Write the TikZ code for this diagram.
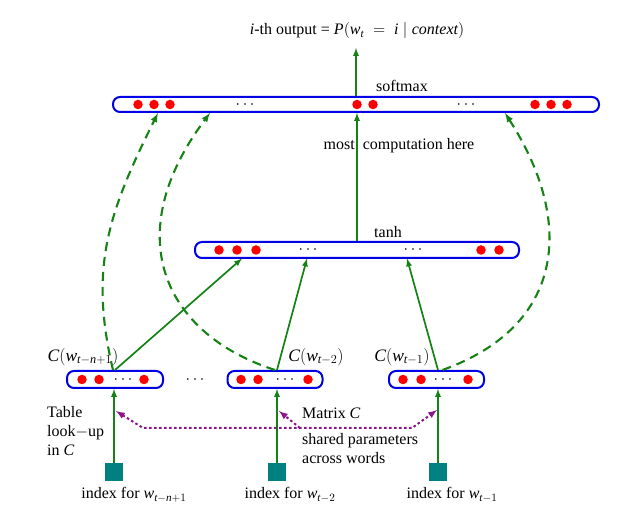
\RequirePackage{fix-cm}
\documentclass[tikz,border=0pt]{standalone}
\usepackage{amstext}
\usepackage{fontspec}
\setmainfont{Liberation Serif}
\definecolor{netgreen}{RGB}{20,130,20}
\definecolor{netblue}{RGB}{0,0,230}
\definecolor{netred}{RGB}{255,0,0}
\definecolor{netteal}{RGB}{0,128,128}
\definecolor{netpurple}{RGB}{140,20,140}
\newcommand{\mv}[1]{\textit{#1}}
\tikzstyle{layer}=[draw=netblue, line width=2pt, rounded corners=7pt, inner sep=0pt]
\tikzstyle{unit}=[circle, fill=netred, inner sep=0pt, minimum size=9.5pt]
\tikzstyle{index box}=[fill=netteal, inner sep=0pt, minimum size=18pt]
\tikzstyle{feed}=[->, netgreen, line width=1.7pt]
\tikzstyle{feed dashed}=[feed, line width=2.1pt, dash pattern=on 9pt off 6pt]
\tikzstyle{shared}=[netpurple, line width=2pt, dash pattern=on 2.5pt off 2.5pt]
\tikzstyle{txt}=[inner sep=0pt]

\begin{document}
\begin{tikzpicture}[>=latex, x=1pt, y=-1pt, font=\fontsize{16}{19}\selectfont]
    \useasboundingbox (0,0) rectangle (633,521);

    % Softmax layer
    \node[layer, minimum width=486pt, minimum height=15pt] (soft) at (356,104.5) {};
    \foreach \x [count=\i] in {138,154,170,357,373,535,551,567}
        \node[unit] (s\i) at (\x,104.5) {};
    \node (sdots1) at (245,104.5) {$\cdots$};
    \node (sdots2) at (466,104.5) {$\cdots$};
    \node[txt] (softlabel) at (402,86) {softmax};

    % Output
    \node[txt] (title) at (357,31) {\mv{i}-th output = $\mv{P}(\mv{w}_{\mv{t}}\;=\;\mv{i}\mid \mv{context})$};
    \coordinate (out) at (356,48);
    \draw[feed] (soft.north) -- (out);

    % Hidden layer
    \node[layer, minimum width=324pt, minimum height=16pt] (hid) at (357,250) {};
    \foreach \x [count=\i] in {219,237,256,481,499}
        \node[unit] (h\i) at (\x,250) {};
    \node (hdots1) at (308,250) {$\cdots$};
    \node (hdots2) at (413,250) {$\cdots$};
    \node[txt] (hidlabel) at (388,232) {tanh};
    \draw[feed] (hid.north) -- (hid.north |- soft.south);
    \node[txt] (comp) at (399,146) {most\ \ computation here};

    % Word feature boxes
    \node[layer, minimum width=96pt, minimum height=17pt] (c1) at (115,379.5) {};
    \node[layer, minimum width=95pt, minimum height=17pt] (c2) at (275,379.5) {};
    \node[layer, minimum width=95pt, minimum height=17pt] (c3) at (436.5,379.5) {};
    \foreach \x [count=\i] in {82,99,144,241,258,308,403,421,468}
        \node[unit] (u\i) at (\x,379.5) {};
    \node (cdots1) at (123,379.5) {$\cdots$};
    \node (cdots2) at (285,379.5) {$\cdots$};
    \node (cdots3) at (443,379.5) {$\cdots$};
    \node (between) at (195,380) {$\cdots$};
    \node[txt, font=\fontsize{17.5}{20}\selectfont] (cl1) at (83,357) {$\mv{C}(\mv{w}_{\mv{t}-\mv{n}+1})$};
    \node[txt, font=\fontsize{17.5}{20}\selectfont] (cl2) at (316,357) {$\mv{C}(\mv{w}_{\mv{t}-2})$};
    \node[txt, font=\fontsize{17.5}{20}\selectfont] (cl3) at (402,357) {$\mv{C}(\mv{w}_{\mv{t}-1})$};

    % Index squares
    \node[index box] (i1) at (114,472) {};
    \node[index box] (i2) at (277,472) {};
    \node[index box] (i3) at (438,472) {};
    \node[txt] (il1) at (134,495) {index for $\mv{w}_{\mv{t}-\mv{n}+1}$};
    \node[txt] (il2) at (290,495) {index for $\mv{w}_{\mv{t}-2}$};
    \node[txt] (il3) at (452,495) {index for $\mv{w}_{\mv{t}-1}$};
    \draw[feed] (i1) -- (i1 |- c1.south);
    \draw[feed] (i2) -- (i2 |- c2.south);
    \draw[feed] (i3) -- (i3 |- c3.south);

    % Into hidden layer
    \coordinate (hin1) at (242,258.5);
    \coordinate (hin2) at (307,258.5);
    \coordinate (hin3) at (407,258.5);
    \draw[feed] (c1.north) -- (hin1);
    \draw[feed] (i2 |- c2.north) -- (hin2);
    \draw[feed] (i3 |- c3.north) -- (hin3);

    % Direct connections
    \coordinate (t1) at (158,113);
    \coordinate (t2) at (210,113);
    \coordinate (t3) at (505,113);
    \draw[feed dashed] ([xshift=-2pt]c1.north) .. controls (89,268) and (108,213) .. (t1);
    \draw[feed dashed] (c2.north) .. controls (161,333) and (120,233) .. (t2);
    \draw[feed dashed] ([xshift=6pt]c3.north) .. controls (565,326) and (575,222) .. (t3);

    % Shared matrix
    \coordinate (l1) at (116,411);
    \coordinate (l2) at (279,411);
    \coordinate (l3) at (437,410);
    \coordinate (j1) at (143,428);
    \coordinate (j2) at (300,428);
    \coordinate (j3) at (412,428);
    \draw[shared,<->] (l1) -- (j1) -- (j3) -- (l3);
    \draw[shared,->] (j2) -- (l2);
    \node[txt, anchor=west, align=left] (lookup) at (47,431) {Table\\look$-$up\\in \mv{C}};
    \node[txt, anchor=west] (matrix) at (302,413) {Matrix \mv{C}};
    \node[txt, anchor=west, align=left] (sharedtxt) at (302,449) {shared parameters\\across words};

\end{tikzpicture}
\end{document}
